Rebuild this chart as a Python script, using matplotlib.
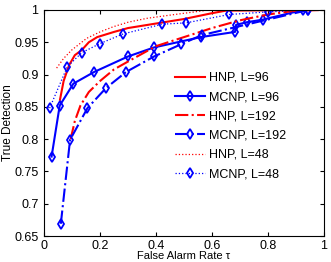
import numpy as np
import matplotlib
matplotlib.use("Agg")
import matplotlib.pyplot as plt

plt.rcParams['font.family'] = ['Liberation Sans', 'DejaVu Sans']

# HNP curves (no markers)
hnp96_x = [0.057, 0.07, 0.09, 0.11, 0.135, 0.16, 0.19, 0.25, 0.30, 0.40, 0.50, 0.60, 0.65, 1.0]
hnp96_y = [0.861, 0.89, 0.915, 0.930, 0.938, 0.950, 0.958, 0.966, 0.972, 0.979, 0.986, 0.995, 0.999, 1.0]

hnp192_x = [0.095, 0.11, 0.13, 0.16, 0.20, 0.25, 0.32, 0.40, 0.50, 0.60, 0.70, 0.80, 0.90, 1.0]
hnp192_y = [0.800, 0.828, 0.852, 0.873, 0.890, 0.908, 0.925, 0.944, 0.958, 0.972, 0.984, 0.993, 0.999, 1.0]

hnp48_x = [0.045, 0.07, 0.099, 0.152, 0.20, 0.247, 0.30, 0.367, 0.45, 0.52, 0.59, 1.0]
hnp48_y = [0.910, 0.925, 0.938, 0.956, 0.966, 0.974, 0.981, 0.987, 0.992, 0.996, 1.0, 1.0]

# MCNP curves (diamond markers)
mcnp96_x = [0.027, 0.056, 0.105, 0.179, 0.30, 0.393, 0.56, 0.682, 0.686, 0.724, 0.781, 0.926]
mcnp96_y = [0.773, 0.852, 0.886, 0.904, 0.928, 0.942, 0.958, 0.966, 0.977, 0.981, 0.985, 1.0]

mcnp192_x = [0.06, 0.093, 0.155, 0.221, 0.293, 0.393, 0.49, 0.563, 0.944]
mcnp192_y = [0.669, 0.799, 0.848, 0.879, 0.904, 0.928, 0.947, 0.961, 1.0]

mcnp48_x = [0.02, 0.083, 0.135, 0.20, 0.283, 0.423, 0.507, 0.662, 0.799, 0.944]
mcnp48_y = [0.848, 0.912, 0.934, 0.948, 0.963, 0.978, 0.980, 0.993, 0.997, 1.0]

fig = plt.figure(figsize=(3.31, 2.62), dpi=100)
ax = fig.add_axes([0.133, 0.099, 0.846, 0.863])

mk = dict(marker='d', markersize=5.5, markerfacecolor='none', markeredgewidth=1.3)
ax.plot(hnp96_x, hnp96_y, color='red', lw=1.5, label='HNP, L=96')
ax.plot(mcnp96_x, mcnp96_y, color='blue', lw=1.5, label='MCNP, L=96', **mk)
ax.plot(hnp192_x, hnp192_y, color='red', lw=1.5, ls='-.', label='HNP, L=192')
ax.plot(mcnp192_x, mcnp192_y, color='blue', lw=1.5, ls='-.', label='MCNP, L=192', **mk)
ax.plot(hnp48_x, hnp48_y, color='red', lw=0.9, ls=':', label='HNP, L=48')
ax.plot(mcnp48_x, mcnp48_y, color='blue', lw=0.9, ls=':', label='MCNP, L=48', **mk)

ax.set_xlim(0, 1)
ax.set_ylim(0.65, 1)
ax.set_xticks([0, 0.2, 0.4, 0.6, 0.8, 1])
ax.set_xticklabels(['0', '0.2', '0.4', '0.6', '0.8', '1'])
ax.set_yticks(np.arange(0.65, 1.001, 0.05))
ax.set_yticklabels(['0.65', '0.7', '0.75', '0.8', '0.85', '0.9', '0.95', '1'])
ax.tick_params(direction='in', top=True, right=True, labelsize=9, length=3, pad=4)
ax.tick_params(axis='x', pad=2.5)
ax.set_xlabel('False Alarm Rate τ', fontsize=8)
ax.set_ylabel('True Detection', fontsize=8.5)
ax.xaxis.set_label_coords(0.5, -0.068)
ax.yaxis.set_label_coords(-0.108, 0.5)

ax.legend(loc='upper left', bbox_to_anchor=(0.45, 0.748), frameon=False, fontsize=9,
          handlelength=2.4, handletextpad=0.35, labelspacing=0.58, borderaxespad=0)

fig.savefig('out.png', dpi=100)
